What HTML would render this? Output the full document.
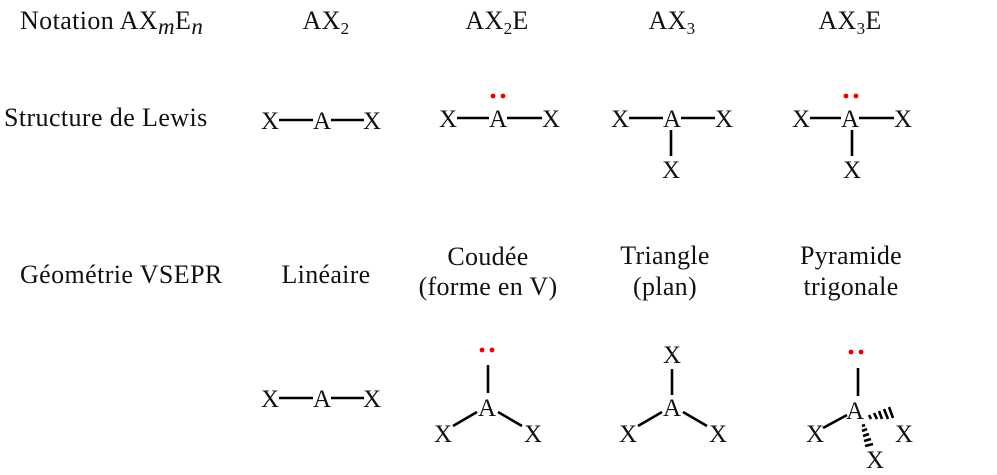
<!DOCTYPE html>
<html><head><meta charset="utf-8"><style>
html,body{margin:0;padding:0;background:#fff;}
svg{display:block;}
text{font-family:"Liberation Serif",serif;fill:#111;}
.h{font-size:26px;letter-spacing:0.4px;}
.c{font-size:26px;text-anchor:middle;letter-spacing:0.3px;}
.m{font-size:25px;text-anchor:middle;}
line{stroke:#000;stroke-width:2.6;}
</style></head><body>
<svg width="997" height="475" viewBox="0 0 997 475" xmlns="http://www.w3.org/2000/svg">
<!-- row 1 -->
<text class="h" x="20" y="29">Notation AX<tspan font-style="italic" dy="5" font-size="23">m</tspan><tspan dy="-5">E</tspan><tspan font-style="italic" dy="5" font-size="23">n</tspan></text>
<text class="c" x="326" y="29">AX<tspan font-size="17" dy="5">2</tspan></text>
<text class="c" x="497" y="29">AX<tspan font-size="17" dy="5">2</tspan><tspan dy="-5">E</tspan></text>
<text class="c" x="672" y="29">AX<tspan font-size="17" dy="5">3</tspan></text>
<text class="c" x="850" y="29">AX<tspan font-size="17" dy="5">3</tspan><tspan dy="-5">E</tspan></text>
<!-- row 2 -->
<text class="h" x="4" y="126">Structure de Lewis</text>
<g>
<text class="m" x="270" y="129">X</text><text class="m" x="322" y="129">A</text><text class="m" x="372" y="129">X</text>
<line x1="279" y1="120" x2="313" y2="120"/><line x1="331" y1="120" x2="364" y2="120"/>
</g>
<g>
<text class="m" x="448" y="127">X</text><text class="m" x="498" y="127">A</text><text class="m" x="551" y="127">X</text>
<line x1="457" y1="118" x2="489" y2="118"/><line x1="507" y1="118" x2="542" y2="118"/>
<circle cx="493" cy="96" r="2.4" fill="#e00"/><circle cx="503" cy="96" r="2.4" fill="#e00"/>
</g>
<g>
<text class="m" x="620" y="127">X</text><text class="m" x="672" y="127">A</text><text class="m" x="724" y="127">X</text>
<line x1="629" y1="118" x2="663" y2="118"/><line x1="681" y1="118" x2="715" y2="118"/>
<line x1="671" y1="130" x2="671" y2="156"/>
<text class="m" x="671" y="178">X</text>
</g>
<g>
<text class="m" x="801" y="127">X</text><text class="m" x="850" y="127">A</text><text class="m" x="903" y="127">X</text>
<line x1="810" y1="118" x2="841" y2="118"/><line x1="859" y1="118" x2="894" y2="118"/>
<line x1="852" y1="130" x2="852" y2="156"/>
<text class="m" x="852" y="178">X</text>
<circle cx="846" cy="96" r="2.4" fill="#e00"/><circle cx="856" cy="96" r="2.4" fill="#e00"/>
</g>
<!-- row 3 -->
<text class="h" x="20" y="283">Géométrie VSEPR</text>
<text class="c" x="326" y="283">Linéaire</text>
<text class="c" x="488" y="265">Coudée</text>
<text class="c" x="488" y="295">(forme en V)</text>
<text class="c" x="665" y="264">Triangle</text>
<text class="c" x="665" y="295">(plan)</text>
<text class="c" x="851" y="264">Pyramide</text>
<text class="c" x="851" y="295">trigonale</text>
<!-- row 4 -->
<g>
<text class="m" x="270" y="407">X</text><text class="m" x="322" y="407">A</text><text class="m" x="372" y="407">X</text>
<line x1="279" y1="398" x2="313" y2="398"/><line x1="331" y1="398" x2="364" y2="398"/>
</g>
<g>
<circle cx="482" cy="350" r="2.4" fill="#e00"/><circle cx="492" cy="350" r="2.4" fill="#e00"/>
<line x1="488" y1="365" x2="488" y2="393"/>
<text class="m" x="487" y="416">A</text>
<text class="m" x="443" y="442">X</text><text class="m" x="533" y="442">X</text>
<line x1="453" y1="426" x2="477" y2="412"/><line x1="498" y1="412" x2="522" y2="426"/>
</g>
<g>
<text class="m" x="672" y="363">X</text>
<line x1="672" y1="369" x2="672" y2="395"/>
<text class="m" x="672" y="416">A</text>
<text class="m" x="628" y="442">X</text><text class="m" x="718" y="442">X</text>
<line x1="638" y1="426" x2="662" y2="412"/><line x1="683" y1="412" x2="707" y2="426"/>
</g>
<g>
<circle cx="851" cy="352" r="2.4" fill="#e00"/><circle cx="861" cy="352" r="2.4" fill="#e00"/>
<line x1="858" y1="368" x2="858" y2="396"/>
<text class="m" x="855" y="419">A</text>
<text class="m" x="815" y="442">X</text><text class="m" x="904" y="442">X</text><text class="m" x="875" y="468">X</text>
<line x1="823" y1="428" x2="847" y2="415"/>
<g stroke="#000" stroke-width="1.7">
<line x1="869" y1="415" x2="871" y2="419"/><line x1="874" y1="413" x2="877" y2="419"/><line x1="879" y1="411" x2="882" y2="419"/><line x1="884" y1="409" x2="888" y2="419"/><line x1="889" y1="407" x2="893" y2="418"/>
<line x1="862" y1="426" x2="865" y2="425"/><line x1="862" y1="431" x2="867" y2="429"/><line x1="863" y1="436" x2="869" y2="434"/><line x1="864" y1="441" x2="871" y2="439"/><line x1="865" y1="446" x2="873" y2="444"/>
</g>
</g>
</svg>
</body></html>
